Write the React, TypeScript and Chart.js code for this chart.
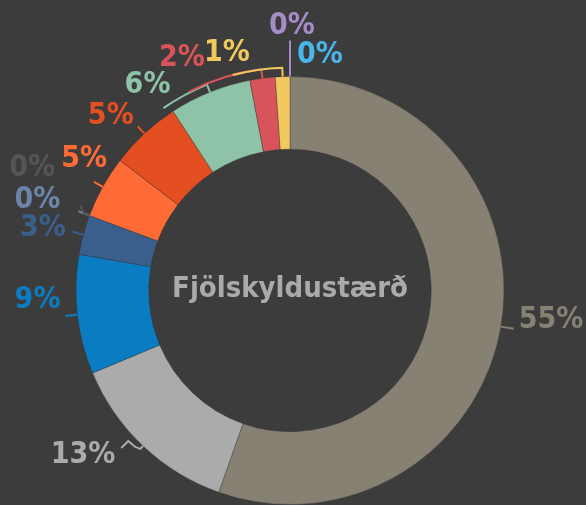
import React, { useEffect, useRef } from 'react';
import { Chart, registerables } from 'chart.js';

Chart.register(...registerables);

// ---- data ----
const categories = ['1', '2', '3', '4', '5', '6', '7', '8', '9', '10', '11', '12', '13'];
const shares = [55.4, 13.3, 9.0, 3.0, 0, 0, 4.7, 5.4, 6.2, 1.9, 1.1, 0, 0];
const centerTitle = 'Fjölskyldustærð';

// ---- styles ----
const sliceColors = [
  '#878174', '#ababab', '#0a7cc1', '#3b5f8d', '#6c84a8', '#555555',
  '#ff6b36', '#e44f22', '#8fc3a7', '#d9545a', '#f0c85e', '#a68cc7', '#4ab5e8',
];
const BG = '#3c3c3c';
const FONT = "'DejaVu Sans Condensed', 'DejaVu Sans', sans-serif";

type LabelLayout = {
  r1: number;
  sweep?: number;
  tail?: [number, number][];
  tx: number;
  ty: number;
  align: CanvasTextAlign;
};

const labelLayout: LabelLayout[] = [
  { r1: 13, tx: 5, ty: -1, align: 'left' },
  { r1: 4, tail: [[-5, -2], [-12, -8], [-19, -1]], tx: -6, ty: 15, align: 'right' },
  { r1: 12, tx: -5, ty: -8, align: 'right' },
  { r1: 11, tx: -7, ty: 4, align: 'right' },
  { r1: 12, tx: -18, ty: -3, align: 'right' },
  { r1: 6, tail: [[-4, -8]], tx: -25, ty: -29, align: 'right' },
  { r1: 10, tx: 13, ty: -15, align: 'right' },
  { r1: 10, tx: -4, ty: -2, align: 'right' },
  { r1: 8, sweep: -12.8, tx: 7, ty: -15, align: 'right' },
  { r1: 9, sweep: -19.6, tx: 16, ty: -26, align: 'right' },
  { r1: 9, sweep: -12.9, tx: 17, ty: -13.5, align: 'right' },
  { r1: 36, tx: 2, ty: -7, align: 'center' },
  { r1: 0, tx: 7, ty: -14, align: 'left' },
];

const labelPlugin = {
  id: 'outsideLabels',
  afterDraw(chart: any) {
    const ctx: CanvasRenderingContext2D = chart.ctx;
    const meta = chart.getDatasetMeta(0);
    const data = chart.data.datasets[0].data as number[];
    ctx.save();
    meta.data.forEach((arc: any, i: number) => {
      const { x, y, startAngle, endAngle, outerRadius } = arc.getProps(
        ['x', 'y', 'startAngle', 'endAngle', 'outerRadius'],
        true
      );
      const lay = labelLayout[i];
      const color = sliceColors[i];
      const mid = (startAngle + endAngle) / 2;
      const R = outerRadius;
      const pt = (r: number, a: number): [number, number] => [x + r * Math.cos(a), y + r * Math.sin(a)];
      const p0 = pt(R, mid);
      const r1 = R + lay.r1;
      let pe = pt(r1, mid);
      ctx.strokeStyle = color;
      ctx.lineWidth = 2;
      ctx.lineJoin = 'round';
      if (lay.r1 > 0) {
        ctx.beginPath();
        ctx.moveTo(p0[0], p0[1]);
        ctx.lineTo(pe[0], pe[1]);
        if (lay.sweep) {
          const a1 = mid + (lay.sweep * Math.PI) / 180;
          ctx.arc(x, y, r1, mid, a1, lay.sweep < 0);
          pe = pt(r1, a1);
        }
        if (lay.tail) {
          const base = pe;
          lay.tail.forEach(([dx, dy]) => {
            pe = [base[0] + dx, base[1] + dy];
            ctx.lineTo(pe[0], pe[1]);
          });
        }
        ctx.stroke();
      }
      ctx.fillStyle = color;
      ctx.font = `bold 30px ${FONT}`;
      ctx.textAlign = lay.align;
      ctx.textBaseline = 'alphabetic';
      ctx.fillText(`${Math.round(data[i])}%`, pe[0] + lay.tx, pe[1] + lay.ty);
    });
    const first = meta.data[0];
    if (first) {
      ctx.fillStyle = '#aaaaaa';
      ctx.font = `bold 29px ${FONT}`;
      ctx.textAlign = 'center';
      ctx.textBaseline = 'alphabetic';
      ctx.fillText(centerTitle, first.x, first.y + 6);
    }
    ctx.restore();
  },
};

export default function App() {
  const ref = useRef<HTMLCanvasElement | null>(null);
  useEffect(() => {
    document.body.style.margin = '0';
    document.body.style.background = BG;
    const canvas = ref.current;
    if (!canvas) return;
    const chart = new Chart(canvas, {
      type: 'doughnut',
      data: {
        labels: categories,
        datasets: [
          {
            data: shares,
            backgroundColor: sliceColors,
            borderColor: 'rgba(50,50,50,0.35)',
            borderWidth: 1,
          },
        ],
      },
      options: {
        responsive: false,
        animation: false,
        cutout: '66%',
        layout: { padding: { left: 75, right: 81, top: 76, bottom: 0 } },
        plugins: {
          legend: { display: false },
          tooltip: { enabled: false },
        },
      },
      plugins: [labelPlugin],
    });
    return () => chart.destroy();
  }, []);
  return (
    <div style={{ position: 'fixed', left: 0, top: 0, width: 586, height: 505, background: BG }}>
      <canvas ref={ref} width={586} height={505} style={{ display: 'block' }} />
    </div>
  );
}
